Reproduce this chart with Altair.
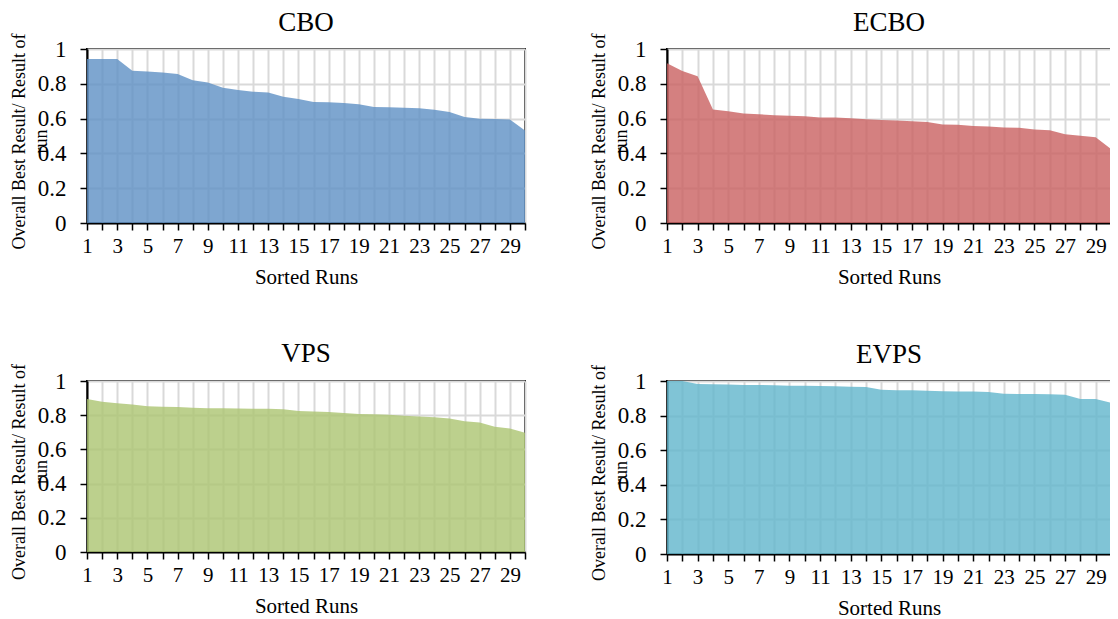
import altair as alt
import pandas as pd

runs = list(range(1, 31))

cbo = [0.942, 0.942, 0.942, 0.875, 0.871, 0.865, 0.857, 0.821, 0.807, 0.778,
       0.765, 0.755, 0.750, 0.726, 0.713, 0.696, 0.694, 0.690, 0.682, 0.667,
       0.665, 0.663, 0.659, 0.651, 0.638, 0.609, 0.599, 0.597, 0.595, 0.532]
ecbo = [0.918, 0.874, 0.844, 0.653, 0.642, 0.629, 0.625, 0.619, 0.617, 0.613,
        0.606, 0.606, 0.602, 0.596, 0.592, 0.589, 0.585, 0.581, 0.566, 0.564,
        0.558, 0.554, 0.549, 0.547, 0.537, 0.533, 0.510, 0.501, 0.493, 0.425]
vps = [0.895, 0.879, 0.870, 0.862, 0.852, 0.850, 0.848, 0.844, 0.840, 0.840,
       0.839, 0.838, 0.837, 0.835, 0.825, 0.822, 0.819, 0.813, 0.807, 0.805,
       0.802, 0.797, 0.792, 0.788, 0.780, 0.765, 0.757, 0.732, 0.722, 0.698]
evps = [1.000, 1.000, 0.983, 0.981, 0.980, 0.977, 0.977, 0.975, 0.973, 0.972,
        0.971, 0.969, 0.967, 0.966, 0.950, 0.946, 0.946, 0.943, 0.941, 0.940,
        0.939, 0.937, 0.927, 0.925, 0.925, 0.923, 0.920, 0.896, 0.896, 0.875]

titles = ["CBO", "ECBO", "VPS", "EVPS"]
colors = ["#5E90C4", "#C96060", "#ABC471", "#60B5CC"]
series = [cbo, ecbo, vps, evps]
y_ticks = [0, 0.2, 0.4, 0.6, 0.8, 1]

FONT = "Liberation Serif"


def panel(name, vals, color, width, height, title_offset):
    df = pd.DataFrame({"run": runs, "value": vals})
    return alt.Chart(df, title=alt.Title(name, fontSize=27, font=FONT,
                                         fontWeight="normal", color="black",
                                         offset=title_offset)).mark_area(
        color=color, opacity=0.8, interpolate="linear"
    ).encode(
        x=alt.X("run:Q", title="Sorted Runs",
                scale=alt.Scale(domain=[1, 30], nice=False, zero=False),
                axis=alt.Axis(values=runs,
                              labelExpr="datum.value % 2 == 1 ? datum.label : ''",
                              labelFontSize=21, labelFont=FONT, labelColor="black",
                              labelPadding=5, tickSize=7, tickColor="black",
                              tickWidth=1.5, domainColor="black", domainWidth=2,
                              gridColor="#d9d9d9", gridWidth=2,
                              titleFontSize=21, titleFont=FONT,
                              titleFontWeight="normal", titleColor="black",
                              titlePadding=10, labelOverlap=False,
                              labelFlush=False)),
        y=alt.Y("value:Q",
                title=["Overall Best Result/ Result of", "run"],
                scale=alt.Scale(domain=[0, 1], nice=False),
                axis=alt.Axis(values=y_ticks, format="~g",
                              labelFontSize=23, labelFont=FONT, labelColor="black",
                              labelPadding=14, tickSize=7, tickColor="black",
                              tickWidth=1.5, domainColor="black", domainWidth=2,
                              gridColor="#d9d9d9", gridWidth=2,
                              titleFontSize=18, titleFont=FONT,
                              titleFontWeight="normal", titleColor="black",
                              titleX=-63, titleY=height / 2 + 5,
                              titleBaseline="alphabetic", titleLineHeight=22,
                              titleAlign="center", titleAngle=270)),
    ).properties(width=width, height=height)


p = [panel(titles[0], series[0], colors[0], 438, 174, -4),
     panel(titles[1], series[1], colors[1], 444, 174, -4),
     panel(titles[2], series[2], colors[2], 438, 171, -4),
     panel(titles[3], series[3], colors[3], 444, 173, -4)]

top = alt.hconcat(p[0], p[1], spacing=61)
bottom = alt.hconcat(p[2], p[3], spacing=61)
chart = alt.vconcat(top, bottom, spacing=50).configure_view(
    stroke="black", strokeWidth=2
).properties(padding={"top": 0, "left": 0, "right": -3, "bottom": 0},
             background="white")

chart.save("out.html", embed_options={"renderer": "svg", "actions": False})
